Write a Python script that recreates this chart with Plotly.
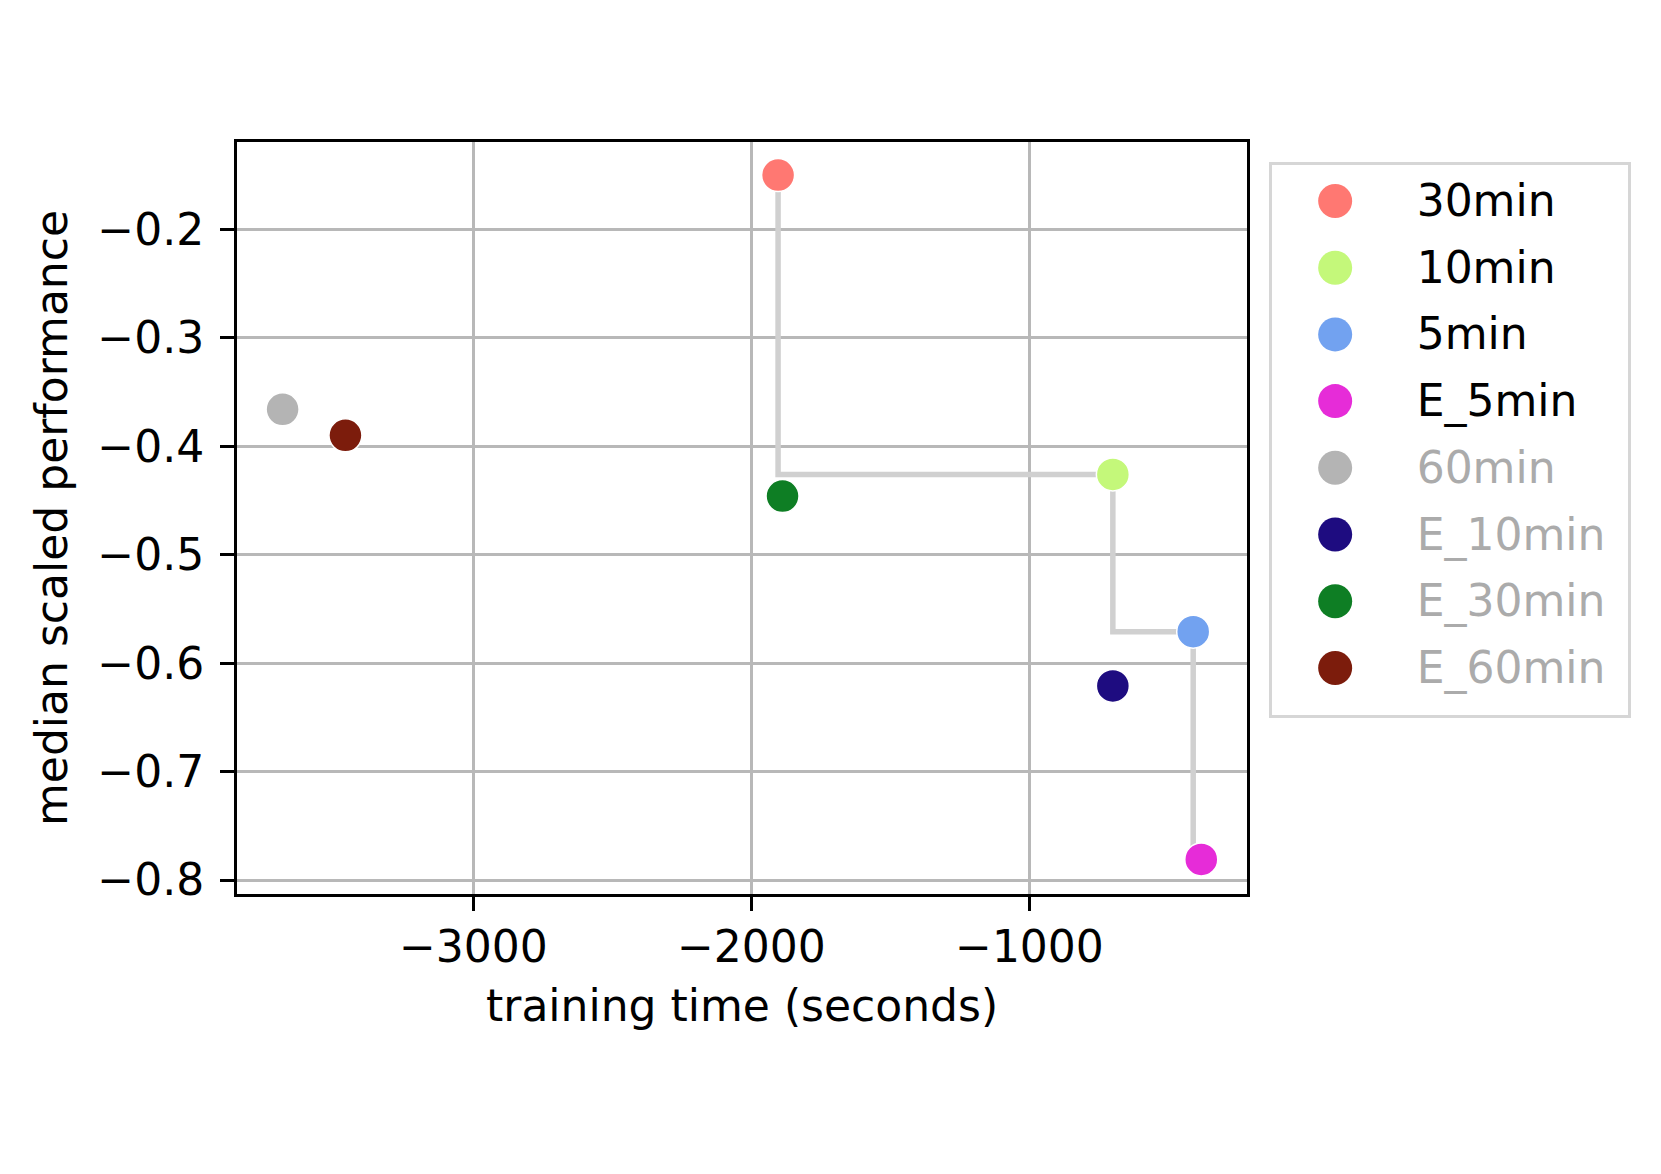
import plotly.graph_objects as go

# budgets as listed in the legend
names = ["30min", "10min", "5min", "E_5min", "60min", "E_10min", "E_30min", "E_60min"]
train_time = [-1904, -700, -411, -382, -3686, -700, -1888, -3460]
performance = [-0.150, -0.426, -0.571, -0.781, -0.366, -0.621, -0.446, -0.390]
colors = ["#FF7872", "#C4F87A", "#72A2F0", "#E62CD8", "#B4B4B4", "#1E0C80", "#0E7E24", "#7C1C0C"]
on_front = [True, True, True, True, False, False, False, False]

# pareto front (indices into the arrays above)
front = [0, 1, 2, 3]

FONT = "DejaVu Sans"
GRID = "#b8b8b8"

fig = go.Figure()

fig.add_trace(
    go.Scatter(
        x=[train_time[i] for i in front],
        y=[performance[i] for i in front],
        mode="lines",
        line=dict(color="#d0d0d0", width=5.5, shape="vh"),
        showlegend=False,
        hoverinfo="skip",
    )
)

for name, x, y, c in zip(names, train_time, performance, colors):
    fig.add_trace(
        go.Scatter(
            x=[x],
            y=[y],
            mode="markers",
            name=name,
            marker=dict(size=33, color=c, line=dict(color="white", width=1.5)),
            showlegend=False,
        )
    )

# legend drawn on its own small axes so the markers keep their size
rows = list(range(len(names)))
fig.add_trace(
    go.Scatter(
        x=[0.177] * len(names),
        y=rows,
        mode="markers",
        marker=dict(size=34, color=colors),
        xaxis="x2",
        yaxis="y2",
        showlegend=False,
        hoverinfo="skip",
    )
)
fig.add_trace(
    go.Scatter(
        x=[0.406] * len(names),
        y=[r + 0.06 for r in rows],  # nudge text down a touch, like matplotlib
        mode="text",
        text=names,
        textposition="middle right",
        textfont=dict(size=44, family=FONT,
                      color=["black" if f else "#ababab" for f in on_front]),
        xaxis="x2",
        yaxis="y2",
        showlegend=False,
        hoverinfo="skip",
    )
)

axis_common = dict(
    showgrid=True,
    gridcolor=GRID,
    gridwidth=3,
    zeroline=False,
    showline=True,
    linecolor="black",
    linewidth=3,
    mirror=True,
    ticks="outside",
    ticklen=14,
    tickwidth=2.5,
    tickcolor="black",
    tickfont=dict(size=44, family=FONT, color="black"),
    automargin=False,
)

legend_axis = dict(
    range=[0, 1],
    showgrid=False,
    zeroline=False,
    showticklabels=False,
    showline=True,
    mirror=True,
    linecolor="#d6d6d6",
    linewidth=3,
    fixedrange=True,
    automargin=False,
)

# the page body adds an 8px margin, so margins are shifted to compensate
fig.update_layout(
    width=1661,
    height=1174,
    paper_bgcolor="white",
    plot_bgcolor="white",
    font=dict(family=FONT, size=44, color="black"),
    margin=dict(l=228.5, r=41, t=134, b=288),
    showlegend=False,
    xaxis=dict(
        axis_common,
        domain=[0, 0.7262],
        range=[-3850, -217],
        dtick=1000,
        ticklabelstandoff=-2,
        title=dict(text="training time (seconds)", font=dict(size=44), standoff=20),
    ),
    yaxis=dict(
        axis_common,
        range=[-0.8129, -0.1195],
        dtick=0.1,
        tickformat=".1f",
        ticklabelstandoff=7,
        title=dict(text="median scaled performance", font=dict(size=44), standoff=16),
    ),
    xaxis2=dict(legend_axis, domain=[0.7442, 1], anchor="y2"),
    yaxis2=dict(legend_axis, domain=[0.238, 0.9698], range=[7.706, -0.544], anchor="x2"),
)

fig.write_html("out.html")
